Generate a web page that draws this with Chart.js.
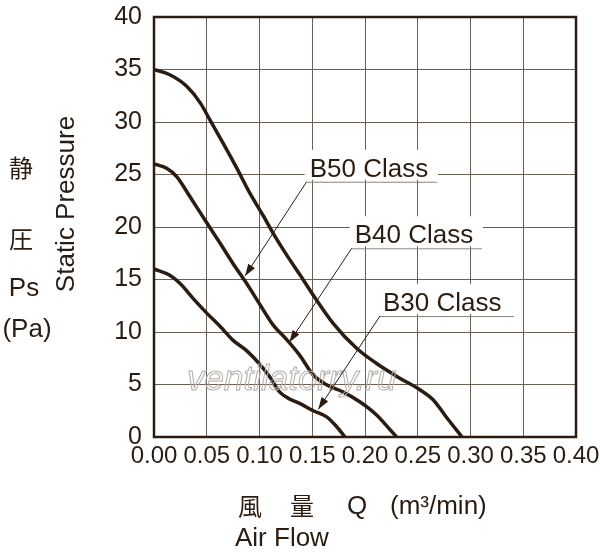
<!DOCTYPE html>
<html>
<head>
<meta charset="utf-8">
<script src="https://cdn.jsdelivr.net/npm/chart.js@4.4.1/dist/chart.umd.min.js"></script>
<style>
  html, body { margin: 0; padding: 0; background: #fff; }
  #wrap { width: 600px; height: 558px; position: relative; }
</style>
</head>
<body>
<div id="wrap"><canvas id="pqChart"></canvas></div>
<script>
// P-Q curves

const b50Flow     = [0, 0.015, 0.031, 0.044, 0.053, 0.066, 0.078, 0.091, 0.104, 0.113, 0.126, 0.138, 0.151, 0.170, 0.192, 0.211, 0.233, 0.252, 0.265, 0.277, 0.292];
const b50Pressure = [35, 34.5, 33.4, 31.8, 30.2, 27.9, 25.7, 23.2, 21.0, 19.4, 17.3, 15.5, 13.5, 10.8, 8.45, 7.0, 5.6, 4.5, 3.5, 1.9, 0];

const b40Flow     = [0, 0.012, 0.0215, 0.034, 0.05, 0.063, 0.075, 0.088, 0.1005, 0.113, 0.126, 0.138, 0.151, 0.164, 0.179, 0.195, 0.211, 0.224, 0.230];
const b40Pressure = [26, 25.6, 24.8, 22.9, 20.4, 18.4, 16.5, 14.6, 12.6, 10.65, 9.25, 7.8, 5.9, 4.95, 4.3, 3.36, 2.1, 0.67, 0];

const b30Flow     = [0, 0.015, 0.025, 0.037, 0.05, 0.063, 0.075, 0.088, 0.1005, 0.11, 0.119, 0.129, 0.138, 0.151, 0.164, 0.173, 0.181];
const b30Pressure = [16, 15.4, 14.6, 13.2, 11.8, 10.5, 9.2, 8.2, 6.9, 5.7, 4.3, 3.6, 3.2, 2.5, 1.9, 1.0, 0];

const flowMin = 0, flowMax = 0.4, flowStep = 0.05;
const pressureMin = 0, pressureMax = 40, pressureStep = 5;

const ink = '#2a1c10';
const gridInk = '#6a5e55';

// callouts: label sits on a short underline, arrow runs to the curve
const callouts = [
  { text: 'B50 Class', from: [0.1447, 24.31], tip: [0.0863, 15.33], lineEnd: 0.2682 },
  { text: 'B40 Class', from: [0.1874, 17.97], tip: [0.1283, 9.02],  lineEnd: 0.3109 },
  { text: 'B30 Class', from: [0.2142, 11.52], tip: [0.1557, 2.64],  lineEnd: 0.3412 }
];

function toPoints(xs, ys) {
  return xs.map((x, i) => ({ x: x, y: ys[i] }));
}

function curve(label, xs, ys) {
  return {
    label: label,
    data: toPoints(xs, ys),
    borderColor: ink,
    borderWidth: 3.5,
    pointRadius: 0,
    fill: false,
    cubicInterpolationMode: 'monotone'
  };
}

const framePlugin = {
  id: 'frame',
  afterDatasetsDraw(chart) {
    const { ctx, chartArea: a, scales } = chart;
    const xs = scales.x, ys = scales.y;
    ctx.save();

    // watermark
    ctx.font = 'italic 35px "Liberation Sans", Arial, sans-serif';
    ctx.strokeStyle = '#b0aca8';
    ctx.lineWidth = 1;
    ctx.strokeText('ventilatorry.ru', a.left + 33, a.top + 373);

    // plot frame
    ctx.strokeStyle = ink;
    ctx.lineWidth = 2.5;
    ctx.strokeRect(a.left, a.top, a.right - a.left, a.bottom - a.top);

    // callouts
    callouts.forEach(c => {
      const x0 = xs.getPixelForValue(c.from[0]);
      const y0 = ys.getPixelForValue(c.from[1]);
      const x1 = xs.getPixelForValue(c.lineEnd);
      const tx = xs.getPixelForValue(c.tip[0]);
      const ty = ys.getPixelForValue(c.tip[1]);

      ctx.fillStyle = '#ffffff';
      ctx.fillRect(x0 - 2, y0 - 32, x1 - x0 + 3, 30);

      ctx.fillStyle = ink;
      ctx.font = '26px "Liberation Sans", Arial, sans-serif';
      ctx.textBaseline = 'alphabetic';
      ctx.textAlign = 'left';
      ctx.fillText(c.text, x0 + 3, y0 - 5);

      ctx.strokeStyle = '#8a847e';
      ctx.lineWidth = 1;
      ctx.beginPath();
      ctx.moveTo(x0, y0 + 0.5);
      ctx.lineTo(x1, y0 + 0.5);
      ctx.stroke();

      ctx.strokeStyle = ink;
      ctx.lineWidth = 1;
      ctx.beginPath();
      ctx.moveTo(x0, y0);
      ctx.lineTo(tx, ty);
      ctx.stroke();

      const ang = Math.atan2(ty - y0, tx - x0);
      const len = 12, half = 4;
      ctx.beginPath();
      ctx.moveTo(tx, ty);
      ctx.lineTo(tx - len * Math.cos(ang) + half * Math.sin(ang), ty - len * Math.sin(ang) - half * Math.cos(ang));
      ctx.lineTo(tx - len * Math.cos(ang) - half * Math.sin(ang), ty - len * Math.sin(ang) + half * Math.cos(ang));
      ctx.closePath();
      ctx.fill();
    });

    ctx.restore();
  },
  afterDraw(chart) {
    const { ctx } = chart;
    ctx.save();
    ctx.fillStyle = ink;
    ctx.textBaseline = 'middle';
    ctx.textAlign = 'center';

    const cjk = '24px "Noto Sans CJK JP", sans-serif';
    const latin = '26px "Liberation Sans", Arial, sans-serif';

    // y axis titles
    ctx.font = cjk;
    ctx.fillText('静', 21, 168);
    ctx.fillText('圧', 21, 239);
    ctx.font = latin;
    ctx.fillText('Ps', 24, 289);
    ctx.fillText('(Pa)', 27, 330);

    ctx.save();
    ctx.translate(67, 204);
    ctx.rotate(-Math.PI / 2);
    ctx.fillText('Static Pressure', 0, 0);
    ctx.restore();

    // x axis titles
    ctx.font = cjk;
    ctx.fillText('風', 250, 506);
    ctx.fillText('量', 302, 506);
    ctx.font = latin;
    ctx.textAlign = 'left';
    ctx.fillText('Q', 347, 507);
    ctx.fillText('(m\u00b3/min)', 390, 507);
    ctx.fillText('Air Flow', 235, 539);
    ctx.restore();
  }
};

new Chart(document.getElementById('pqChart'), {
  type: 'line',
  data: {
    datasets: [
      curve('B50 Class', b50Flow, b50Pressure),
      curve('B40 Class', b40Flow, b40Pressure),
      curve('B30 Class', b30Flow, b30Pressure)
    ]
  },
  options: {
    responsive: true,
    maintainAspectRatio: false,
    animation: false,
    layout: { padding: { top: 17, right: 24, left: 0, bottom: 0 } },
    plugins: {
      legend: { display: false },
      tooltip: { enabled: false }
    },
    scales: {
      x: {
        type: 'linear',
        min: flowMin,
        max: flowMax,
        afterFit: s => { s.height = 121; s.paddingLeft = 0; s.paddingRight = 0; },
        ticks: {
          stepSize: flowStep,
          color: ink,
          padding: 5,
          maxRotation: 0,
          autoSkip: false,
          font: { family: '"Liberation Sans Narrow", "Arial Narrow", sans-serif', size: 24 },
          callback: v => v.toFixed(2)
        },
        grid: { color: gridInk, lineWidth: 1, drawTicks: false },
        border: { display: false }
      },
      y: {
        min: pressureMin,
        max: pressureMax,
        afterFit: s => { s.width = 154; s.paddingTop = 0; s.paddingBottom = 0; },
        ticks: {
          stepSize: pressureStep,
          color: ink,
          padding: 12,
          font: { family: '"Liberation Sans", Arial, sans-serif', size: 25 }
        },
        grid: { color: gridInk, lineWidth: 1, drawTicks: false },
        border: { display: false }
      }
    }
  },
  plugins: [framePlugin]
});
</script>
</body>
</html>
